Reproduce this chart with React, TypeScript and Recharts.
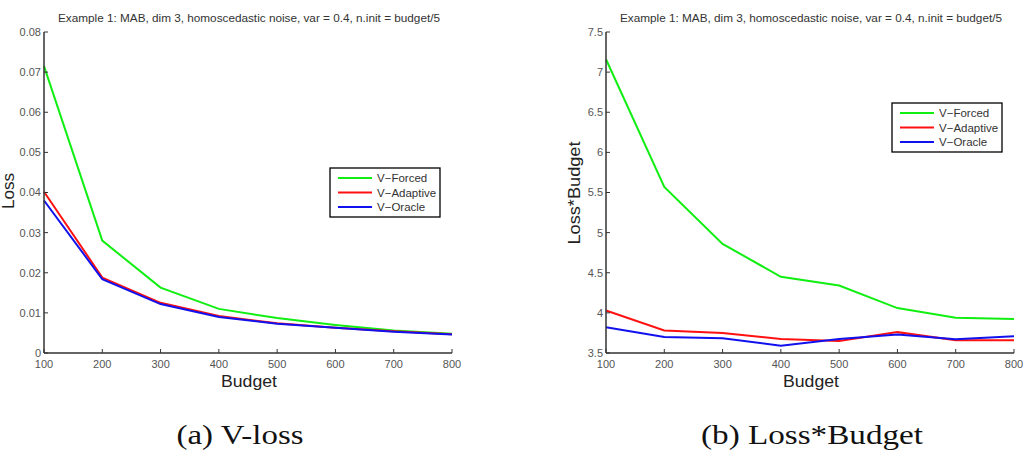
import React from "react";
import { LineChart, Line, XAxis, YAxis } from "recharts";

const budgets = [100, 200, 300, 400, 500, 600, 700, 800];
const seriesNames = ["V−Forced", "V−Adaptive", "V−Oracle"];
const seriesColors = ["#11ee11", "#ff1111", "#1111ee"];

const lossForced = [0.0715, 0.028, 0.0163, 0.011, 0.0087, 0.007, 0.0056, 0.0048];
const lossAdaptive = [0.0402, 0.0188, 0.0125, 0.0092, 0.0074, 0.0063, 0.0054, 0.0047];
const lossOracle = [0.038, 0.0184, 0.0122, 0.009, 0.0073, 0.0063, 0.0053, 0.0046];

const lbForced = [7.16, 5.57, 4.86, 4.45, 4.34, 4.06, 3.94, 3.925];
const lbAdaptive = [4.03, 3.78, 3.75, 3.675, 3.65, 3.76, 3.66, 3.66];
const lbOracle = [3.82, 3.7, 3.685, 3.59, 3.675, 3.73, 3.67, 3.71];

const xTicks = [100, 200, 300, 400, 500, 600, 700, 800];
const lossTicks = [0, 0.01, 0.02, 0.03, 0.04, 0.05, 0.06, 0.07, 0.08];
const lbTicks = [3.5, 4, 4.5, 5, 5.5, 6, 6.5, 7, 7.5];

const titleText = "Example 1: MAB, dim 3, homoscedastic noise, var = 0.4, n.init = budget/5";

const lossData = budgets.map((b, i) => ({
  b,
  forced: lossForced[i],
  adaptive: lossAdaptive[i],
  oracle: lossOracle[i],
}));
const lbData = budgets.map((b, i) => ({
  b,
  forced: lbForced[i],
  adaptive: lbAdaptive[i],
  oracle: lbOracle[i],
}));

const FONT = "'Liberation Sans', Arial, sans-serif";
const SERIF = "'Liberation Serif', serif";
const tickStyle = { fontSize: 11, fill: "#555", fontFamily: FONT };
const keys = ["forced", "adaptive", "oracle"];

function Chart({ data, yTicks, yDomain, fmt, yAxisWidth, width }: any) {
  return (
    <LineChart
      width={width}
      height={460}
      data={data}
      margin={{ top: 32, right: width - yAxisWidth - 408, bottom: 87, left: 0 }}
    >
      <XAxis
        dataKey="b"
        type="number"
        domain={[100, 800]}
        ticks={xTicks}
        height={20}
        tickSize={-4}
        tickMargin={11}
        tick={tickStyle}
        stroke="#333"
        axisLine={{ stroke: "#333", strokeWidth: 1.5 }}
        interval={0}
      />
      <YAxis
        type="number"
        domain={yDomain}
        ticks={yTicks}
        width={yAxisWidth}
        tickSize={-4}
        tickMargin={7}
        tick={tickStyle}
        tickFormatter={fmt}
        stroke="#333"
        axisLine={{ stroke: "#333", strokeWidth: 1.5 }}
        interval={0}
      />
      {keys.map((k, i) => (
        <Line
          key={k}
          dataKey={k}
          stroke={seriesColors[i]}
          strokeWidth={2}
          dot={false}
          isAnimationActive={false}
        />
      ))}
    </LineChart>
  );
}

function LegendBox({ x, y }: { x: number; y: number }) {
  return (
    <g>
      <rect x={x} y={y} width={110} height={49} fill="#fff" stroke="#000" strokeWidth={1.3} />
      {seriesNames.map((n, i) => (
        <g key={n}>
          <line x1={x + 8} x2={x + 42} y1={y + 10 + i * 14.5} y2={y + 10 + i * 14.5} stroke={seriesColors[i]} strokeWidth={2} />
          <text x={x + 47} y={y + 10 + i * 14.5} dominantBaseline="central" fontSize={11.5} fill="#333" fontFamily={FONT}>
            {n}
          </text>
        </g>
      ))}
    </g>
  );
}

export default function App() {
  return (
    <div style={{ position: "absolute", left: 0, top: 0, width: 1029, height: 460, background: "#fff" }}>
      <div style={{ position: "absolute", left: 0, top: 0 }}>
        <Chart data={lossData} yTicks={lossTicks} yDomain={[0, 0.08]} fmt={(v: number) => (v === 0 ? "0" : v.toFixed(2))} yAxisWidth={44} width={515} />
      </div>
      <div style={{ position: "absolute", left: 515, top: 0 }}>
        <Chart data={lbData} yTicks={lbTicks} yDomain={[3.5, 7.5]} fmt={(v: number) => String(v)} yAxisWidth={91} width={514} />
      </div>
      <svg width={1029} height={460} style={{ position: "absolute", left: 0, top: 0, pointerEvents: "none" }}>
        <text x={249} y={18} textAnchor="middle" dominantBaseline="central" fontSize={11} textLength={382} lengthAdjust="spacingAndGlyphs" fill="#333" fontFamily={FONT}>{titleText}</text>
        <text x={811} y={18} textAnchor="middle" dominantBaseline="central" fontSize={11} textLength={382} lengthAdjust="spacingAndGlyphs" fill="#333" fontFamily={FONT}>{titleText}</text>
        <text x={249} y={381} textAnchor="middle" dominantBaseline="central" fontSize={16} textLength={56} lengthAdjust="spacingAndGlyphs" fill="#222" fontFamily={FONT}>Budget</text>
        <text x={811} y={381} textAnchor="middle" dominantBaseline="central" fontSize={16} textLength={56} lengthAdjust="spacingAndGlyphs" fill="#222" fontFamily={FONT}>Budget</text>
        <text x={8} y={191} textAnchor="middle" dominantBaseline="central" fontSize={16} textLength={36} lengthAdjust="spacingAndGlyphs" fill="#222" fontFamily={FONT} transform="rotate(-90 8 191)">Loss</text>
        <text x={574} y={193} textAnchor="middle" dominantBaseline="central" fontSize={17} textLength={103} lengthAdjust="spacingAndGlyphs" fill="#222" fontFamily={FONT} transform="rotate(-90 574 193)">Loss*Budget</text>
        <LegendBox x={330} y={168} />
        <LegendBox x={892} y={103} />
        <text x={240} y={435} textAnchor="middle" dominantBaseline="central" fontSize={27} textLength={127} lengthAdjust="spacingAndGlyphs" fill="#111" fontFamily={SERIF}>(a) V-loss</text>
        <text x={812} y={435} textAnchor="middle" dominantBaseline="central" fontSize={27} textLength={222} lengthAdjust="spacingAndGlyphs" fill="#111" fontFamily={SERIF}>(b) Loss*Budget</text>
      </svg>
    </div>
  );
}
